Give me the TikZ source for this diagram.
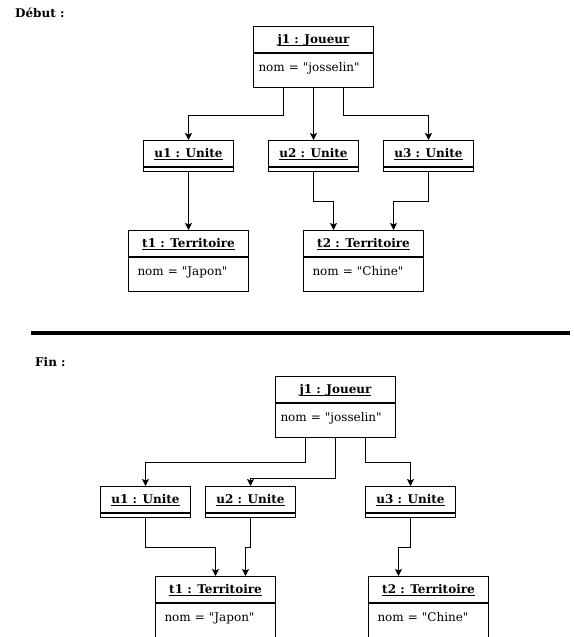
\documentclass[tikz,border=0pt]{standalone}
\usepackage{fontspec}
\setmainfont{DejaVu Serif}[Ligatures=TeXOff]
\usetikzlibrary{arrows.meta}
\definecolor{ObjTrait}{HTML}{000000}
\newcommand{\nomobj}[1]{\underline{\smash{#1}}}

\begin{document}
\begin{tikzpicture}[x=1pt,y=1pt,
  titre/.style={draw=ObjTrait,line width=1pt,minimum width=#1,minimum height=26pt,inner sep=0pt,text height=10pt,text depth=2pt,anchor=north west,font=\fontsize{12}{14}\selectfont\bfseries},
  corps/.style={draw=ObjTrait,line width=1pt,minimum height=34pt,align=left,text width=110pt,inner xsep=5pt,inner ysep=0pt,text height=8pt,text depth=5pt,anchor=north,font=\fontsize{12}{14}\selectfont},
  corpsT/.style={corps,text width=102pt,inner xsep=9pt},
  vide/.style={draw=ObjTrait,line width=1pt,minimum width=90pt,minimum height=4pt,inner sep=0pt,anchor=north},
  lien/.style={line width=1pt,-{Stealth[length=7pt,width=7pt,inset=1.5pt]}},
  etape/.style={anchor=west,inner sep=0pt,font=\fontsize{12}{14}\selectfont\bfseries}]
\path[use as bounding box] (0,0) rectangle (573,637);

% Debut
\node[etape] (debut) at (15,624) {Début :};
\node[titre=120pt] (j1h) at (253,611) {\nomobj{j1 : Joueur}};
\node[corps] (j1b) at (j1h.south) {nom = "josselin"};
\node[titre=90pt] (u1h) at (143,497) {\nomobj{u1 : Unite}};
\node[vide] (u1b) at (u1h.south) {};
\node[titre=90pt] (u2h) at (268,497) {\nomobj{u2 : Unite}};
\node[vide] (u2b) at (u2h.south) {};
\node[titre=90pt] (u3h) at (383,497) {\nomobj{u3 : Unite}};
\node[vide] (u3b) at (u3h.south) {};
\node[titre=120pt] (t1h) at (128,407) {\nomobj{t1 : Territoire}};
\node[corpsT] (t1b) at (t1h.south) {nom = "Japon"};
\node[titre=120pt] (t2h) at (303,407) {\nomobj{t2 : Territoire}};
\node[corpsT] (t2b) at (t2h.south) {nom = "Chine"};

\draw[lien] ([xshift=-30pt]j1b.south) -- ++(0,-28) -| (u1h.north);
\draw[lien] (j1b.south) -- (u2h.north);
\draw[lien] ([xshift=30pt]j1b.south) -- ++(0,-28) -| (u3h.north);
\draw[lien] (u1b.south) -- (t1h.north);
\draw[lien] (u2b.south) -- ++(0,-30) -| ([xshift=-30pt]t2h.north);
\draw[lien] (u3b.south) -- ++(0,-30) -| ([xshift=30pt]t2h.north);

\draw[line width=4pt] (31,304) -- (570,304);

% Fin
\node[etape] (fin) at (35,275) {Fin :};
\node[titre=120pt] (j1h') at (275,261) {\nomobj{j1 : Joueur}};
\node[corps] (j1b') at (j1h'.south) {nom = "josselin"};
\node[titre=90pt] (u1h') at (100,151) {\nomobj{u1 : Unite}};
\node[vide] (u1b') at (u1h'.south) {};
\node[titre=90pt] (u2h') at (205,151) {\nomobj{u2 : Unite}};
\node[vide] (u2b') at (u2h'.south) {};
\node[titre=90pt] (u3h') at (365,151) {\nomobj{u3 : Unite}};
\node[vide] (u3b') at (u3h'.south) {};
\node[titre=120pt] (t1h') at (155,61) {\nomobj{t1 : Territoire}};
\node[corpsT] (t1b') at (t1h'.south) {nom = "Japon"};
\node[titre=120pt] (t2h') at (368,61) {\nomobj{t2 : Territoire}};
\node[corpsT] (t2b') at (t2h'.south) {nom = "Chine"};

\draw[lien] ([xshift=-30pt]j1b'.south) -- ++(0,-25) -| (u1h'.north);
\draw[lien] (j1b'.south) -- ++(0,-41) -| (u2h'.north);
\draw[lien] ([xshift=30pt]j1b'.south) -- ++(0,-25) -| (u3h'.north);
\draw[lien] (u1b'.south) -- ++(0,-30) -| (t1h'.north);
\draw[lien] (u2b'.south) -- ++(0,-30) -| ([xshift=30pt]t1h'.north);
\draw[lien] (u3b'.south) -- ++(0,-30) -| ([xshift=-30pt]t2h'.north);
\end{tikzpicture}
\end{document}
